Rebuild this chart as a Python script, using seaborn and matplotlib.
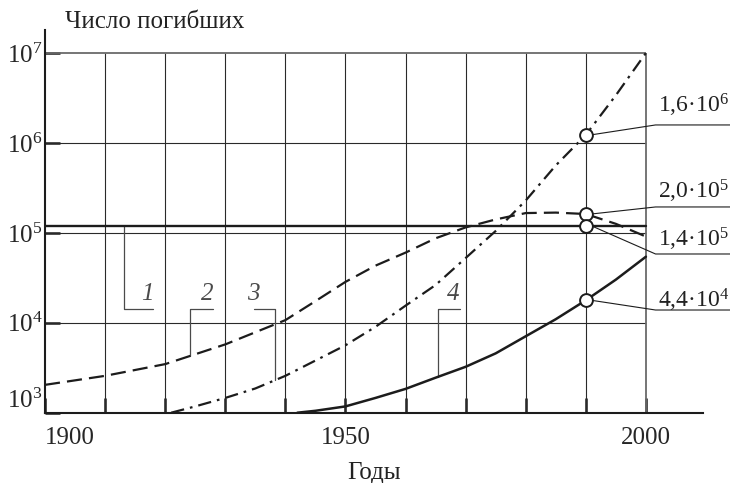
import numpy as np
import pandas as pd
import matplotlib
matplotlib.use('Agg')
import matplotlib.pyplot as plt
from matplotlib.ticker import FixedLocator, NullLocator
import seaborn as sns

# Curve data
years_1 = [1900, 2000]
deaths_1 = [120000, 120000]

years_2 = [1900, 1910, 1920, 1930, 1940, 1945, 1950, 1955, 1960, 1965, 1970, 1975, 1980, 1985,
           1990, 1995, 2000]
deaths_2 = [2040, 2570, 3470, 5750, 10700, 17400, 28500, 43200, 60300, 87000, 115000, 141000,
            166000, 168000, 162000, 126000, 91000]

years_3 = [1921, 1925, 1930, 1935, 1940, 1945, 1950, 1955, 1960, 1965, 1970, 1975, 1980, 1985, 1990, 1995, 2000]
deaths_3 = [1000, 1175, 1460, 1860, 2570, 3800, 5620, 9020, 15500, 26300, 52500, 105000, 229000,
            562000, 1230000, 3390000, 10000000]

years_4 = [1942, 1945, 1950, 1955, 1960, 1965, 1970, 1975, 1980, 1985, 1990, 1995, 2000]
deaths_4 = [1000, 1050, 1175, 1460, 1840, 2450, 3240, 4570, 7080, 10960, 17800, 30200, 54300]

curve_names = ['1', '2', '3', '4']
mark_year = 1990
value_labels = ['1,6·10$^{6}$', '2,0·10$^{5}$', '1,4·10$^{5}$', '4,4·10$^{4}$']

x_tick_years = list(range(1900, 2001, 10))
x_tick_labels = ['1900', '', '', '', '', '1950', '', '', '', '', '2000']
y_tick_values = [1e3, 1e4, 1e5, 1e6, 1e7]
y_tick_labels = [r'$\mathregular{10^{3}}$', r'$\mathregular{10^{4}}$', r'$\mathregular{10^{5}}$',
                 r'$\mathregular{10^{6}}$', r'$\mathregular{10^{7}}$']

sns.set_theme(style='white')
plt.rcParams['font.family'] = ['Liberation Serif', 'DejaVu Serif']
plt.rcParams['mathtext.fontset'] = 'custom'
plt.rcParams['mathtext.rm'] = 'Liberation Serif'
plt.rcParams['mathtext.it'] = 'Liberation Serif:italic'
plt.rcParams['text.color'] = '#222222'

fs = 18
ink = '#1c1c1c'

fig = plt.figure(figsize=(7.3, 4.83), dpi=100)
ax = fig.add_axes([45 / 730, 1 - 412.7 / 483, (703 - 45) / 730, (412.7 - 30) / 483])
ax.set_yscale('log')
ax.set_xlim(1900, 2009.5)
ax.set_ylim(1e3, 10 ** 7.256)

# grid only inside the 1900-2000 x 1e3-1e7 box
for v in y_tick_values[1:-1]:
    ax.hlines(v, 1900, 2000, color='#2a2a2a', lw=0.8, zorder=1)
for yr in x_tick_years[1:-1]:
    ax.vlines(yr, 1e3, 1e7, color='#2a2a2a', lw=0.8, zorder=1)
ax.hlines(1e7, 1900, 2000, color='#6a6a6a', lw=1.3, zorder=1)
ax.vlines(2000, 1e3, 1e7, color='#6a6a6a', lw=1.3, zorder=1)

df1 = pd.DataFrame({'year': years_1, 'deaths': deaths_1})
df2 = pd.DataFrame({'year': years_2, 'deaths': deaths_2})
df3 = pd.DataFrame({'year': years_3, 'deaths': deaths_3})
df4 = pd.DataFrame({'year': years_4, 'deaths': deaths_4})

sns.lineplot(data=df1, x='year', y='deaths', ax=ax, color=ink, lw=1.7, estimator=None, zorder=3)
sns.lineplot(data=df2, x='year', y='deaths', ax=ax, color=ink, lw=1.6, estimator=None,
             linestyle=(0, (6.8, 3.2)), zorder=3)
sns.lineplot(data=df3, x='year', y='deaths', ax=ax, color=ink, lw=1.6, estimator=None,
             linestyle=(0, (6.0, 2.7, 1.2, 2.7)), zorder=3)
sns.lineplot(data=df4, x='year', y='deaths', ax=ax, color=ink, lw=1.8, estimator=None, zorder=3)

# circles at 1990 on each curve
def at_year(xs, ys, yr):
    return 10 ** np.interp(yr, xs, np.log10(ys))

marks = pd.DataFrame({
    'year': [mark_year] * 4,
    'deaths': [at_year(years_3, deaths_3, mark_year), at_year(years_2, deaths_2, mark_year),
               at_year(years_1, deaths_1, mark_year), at_year(years_4, deaths_4, mark_year)],
})
sns.scatterplot(data=marks, x='year', y='deaths', ax=ax, s=85, facecolor='white',
                edgecolor=ink, linewidth=1.4, zorder=5, clip_on=False)

# leader lines to value labels on the right
leader_y = [10 ** 6.2, 10 ** 5.288, 10 ** 4.765, 10 ** 4.142]
text_y = [10 ** 6.334, 10 ** 5.386, 10 ** 4.843, 10 ** 4.174]
for v, ly, ty, lab in zip(marks['deaths'], leader_y, text_y, value_labels):
    ax.plot([mark_year + 0.9, 2001.6, 2014], [v, ly, ly], color=ink, lw=0.8,
            clip_on=False, zorder=4)
    ax.text(2002.0, ty, lab, fontsize=fs - 1, ha='left', va='baseline', clip_on=False)

# curve number labels with bracket leaders
br_y = 10 ** 4.15
num_y = 10 ** 4.254
gray = '#4a4a4a'
# 1
ax.plot([1913.1, 1913.1, 1918.0], [deaths_1[0], br_y, br_y], color=gray, lw=0.9, zorder=2)
# 2
ax.plot([1924.2, 1924.2, 1927.9], [at_year(years_2, deaths_2, 1924.2), br_y, br_y],
        color=gray, lw=0.9, zorder=2)
# 3
ax.plot([1934.8, 1938.3, 1938.3], [br_y, br_y, at_year(years_3, deaths_3, 1938.3)],
        color=gray, lw=0.9, zorder=2)
# 4
ax.plot([1969.0, 1965.4, 1965.4], [br_y, br_y, at_year(years_4, deaths_4, 1965.4)],
        color=gray, lw=0.9, zorder=2)
for name, xp in zip(curve_names, [1917.1, 1927.0, 1934.6, 1967.9]):
    ax.text(xp, num_y, name, fontsize=fs, style='italic', color=gray,
            ha='center', va='baseline')

# axes
sns.despine(ax=ax)
for side in ['left', 'bottom']:
    ax.spines[side].set_linewidth(1.5)
    ax.spines[side].set_color(ink)

ax.xaxis.set_major_locator(FixedLocator(x_tick_years))
ax.set_xticklabels(x_tick_labels)
ax.yaxis.set_major_locator(FixedLocator(y_tick_values))
ax.yaxis.set_minor_locator(NullLocator())
ax.set_yticklabels(y_tick_labels)
ax.tick_params(axis='x', direction='in', length=11, width=1.8, color=ink,
               labelsize=fs, pad=10, bottom=True)
ax.tick_params(axis='y', direction='in', length=11, width=1.8, color=ink,
               labelsize=fs, pad=2, left=True)
ax.get_xticklabels()[0].set_horizontalalignment('left')
ax.get_yticklabels()[0].set_verticalalignment('bottom')

ax.set_xlabel('')
ax.set_ylabel('')
fig.text(374 / 730, 1 - 479 / 483, 'Годы', fontsize=fs, ha='center', va='baseline')
fig.text(65 / 730, 1 - 28 / 483, 'Число погибших', fontsize=fs, ha='left', va='baseline')

fig.savefig('out.png', dpi=100, facecolor='white')
